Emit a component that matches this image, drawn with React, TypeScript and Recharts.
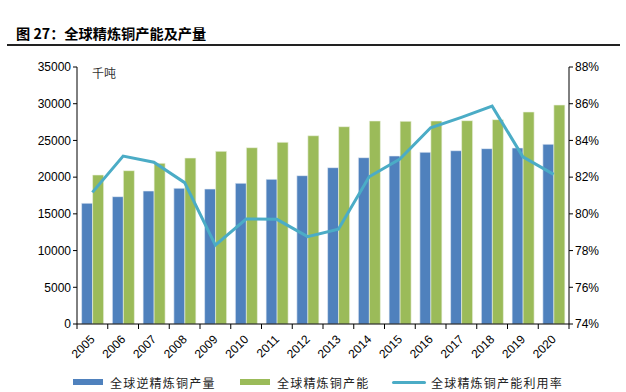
import { Bar, ComposedChart, Line, XAxis, YAxis } from "recharts"

// 年份
const years = ["2005", "2006", "2007", "2008", "2009", "2010", "2011", "2012", "2013", "2014", "2015", "2016", "2017", "2018", "2019", "2020"]
// 全球精炼铜产量（千吨）
const output = [16440, 17340, 18110, 18480, 18380, 19160, 19700, 20200, 21290, 22650, 22880, 23380, 23600, 23880, 23970, 24470]
// 全球精炼铜产能（千吨）
const capacity = [20290, 20880, 21880, 22600, 23510, 24010, 24740, 25640, 26870, 27650, 27600, 27650, 27690, 27830, 28870, 29820]
// 产能利用率（%）
const utilization = [81.17, 83.15, 82.81, 81.7, 78.3, 79.72, 79.7, 78.76, 79.16, 82.02, 82.99, 84.69, 85.26, 85.87, 83.11, 82.15]

const leftTicks = [0, 5000, 10000, 15000, 20000, 25000, 30000, 35000]
const rightTicks = [74, 76, 78, 80, 82, 84, 86, 88]

const data = years.map((y, i) => ({
  year: y,
  output: output[i],
  capacity: capacity[i],
  rate: utilization[i],
}))

const BLUE = "#4F81BD"
const GREEN = "#9BBB59"
const CYAN = "#4BACC6"
const FONT = "'Liberation Sans', Arial, sans-serif"
const CJK = "'Noto Sans CJK SC', sans-serif"

const plotWidth = 492
const band = plotWidth / years.length

function YearTick(props: any) {
  const { x, y, payload, index } = props
  return (
    <g>
      <line x1={x - band / 2} y1={y - 8} x2={x - band / 2} y2={y - 3} stroke="#000" />
      {index === years.length - 1 && (
        <line x1={x + band / 2} y1={y - 8} x2={x + band / 2} y2={y - 3} stroke="#000" />
      )}
      <text
        x={x + 3}
        y={y + 8}
        transform={`rotate(-45 ${x + 3} ${y + 8})`}
        textAnchor="end"
        fontSize={12}
        fontFamily={FONT}
        fill="#000"
      >
        {payload.value}
      </text>
    </g>
  )
}

function LegendItem({ kind, color, label, left }: { kind: "bar" | "line"; color: string; label: string; left: number }) {
  return (
    <div style={{ position: "absolute", left, top: 374, display: "flex", alignItems: "center", height: 16 }}>
      <div
        style={{
          width: kind === "bar" ? 30 : 34,
          height: kind === "bar" ? 6 : 3,
          background: color,
          borderRadius: kind === "line" ? 2 : 0,
          marginRight: kind === "bar" ? 7 : 5,
        }}
      />
      <span style={{ fontFamily: CJK, fontSize: 12, letterSpacing: 1.2, color: "#222" }}>{label}</span>
    </div>
  )
}

export default function App() {
  return (
    <div style={{ position: "absolute", left: 0, top: 0, width: 626, height: 392, background: "#fff" }}>
      <div
        style={{
          position: "absolute",
          left: 16,
          top: 23,
          fontFamily: CJK,
          fontWeight: 700,
          fontSize: 14.2,
          color: "#000",
          whiteSpace: "nowrap",
        }}
      >
        图 27：全球精炼铜产能及产量
      </div>
      <div style={{ position: "absolute", left: 7, top: 44, width: 613, height: 2, background: "#222" }} />
      <div style={{ position: "absolute", left: 92, top: 64, fontFamily: CJK, fontSize: 12, color: "#333" }}>千吨</div>

      <ComposedChart
        width={626}
        height={392}
        data={data}
        margin={{ top: 67, right: 7, bottom: 28, left: 17 }}
        barCategoryGap="15%"
        barGap={0}
      >
        <XAxis
          dataKey="year"
          tick={<YearTick />}
          tickLine={false}
          axisLine={{ stroke: "#000" }}
          interval={0}
          height={40}
        />
        <YAxis
          yAxisId="left"
          domain={[0, 35000]}
          ticks={leftTicks}
          interval={0}
          width={60}
          axisLine={{ stroke: "#000" }}
          tickLine={{ stroke: "#000" }}
          tickSize={4}
          tick={{ fontSize: 12, fontFamily: FONT, fill: "#000" }}
        />
        <YAxis
          yAxisId="right"
          orientation="right"
          domain={[74, 88]}
          ticks={rightTicks}
          interval={0}
          width={50}
          axisLine={{ stroke: "#000" }}
          tickLine={{ stroke: "#000" }}
          tickSize={4}
          tickFormatter={(v: number) => `${v}%`}
          tick={{ fontSize: 12, fontFamily: FONT, fill: "#000" }}
        />
        <Bar yAxisId="left" dataKey="output" fill={BLUE} stroke="#e8eef6" strokeWidth={0.6} isAnimationActive={false} />
        <Bar yAxisId="left" dataKey="capacity" fill={GREEN} stroke="#eef3e4" strokeWidth={0.6} isAnimationActive={false} />
        <Line
          yAxisId="right"
          dataKey="rate"
          stroke={CYAN}
          strokeWidth={3}
          dot={false}
          type="linear"
          isAnimationActive={false}
        />
      </ComposedChart>

      <LegendItem kind="bar" color={BLUE} label="全球逆精炼铜产量" left={73} />
      <LegendItem kind="bar" color={GREEN} label="全球精炼铜产能" left={240} />
      <LegendItem kind="line" color={CYAN} label="全球精炼铜产能利用率" left={392} />
    </div>
  )
}
